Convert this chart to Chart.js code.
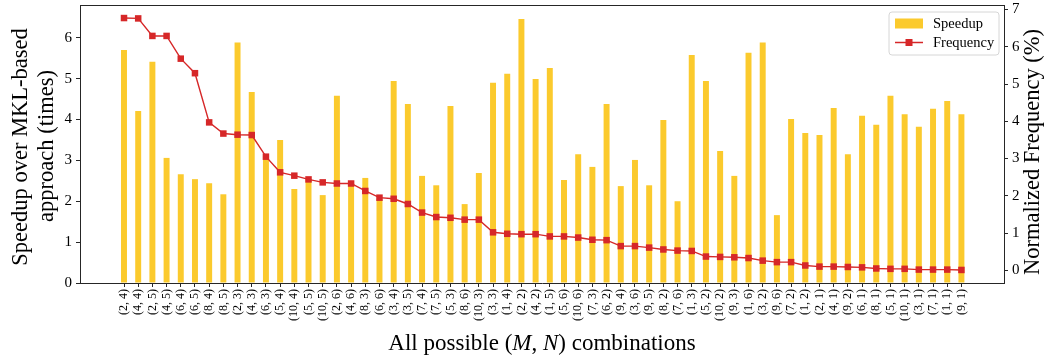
<!DOCTYPE html>
<html>
<head>
<meta charset="utf-8">
<script src="https://cdn.jsdelivr.net/npm/chart.js@4/dist/chart.umd.min.js"></script>
<style>
  html, body { margin: 0; padding: 0; background: #fff; }
  canvas { display: block; }
</style>
</head>
<body>
<canvas id="chart" width="1050" height="360"></canvas>
<script>
// (M, N) combinations, sorted by how often they occur
const combos = [
  '(2, 4)', '(4, 4)', '(2, 5)', '(4, 5)', '(6, 4)', '(6, 5)', '(8, 4)', '(8, 5)', '(2, 3)', '(4, 3)',
  '(6, 3)', '(5, 4)', '(10, 4)', '(5, 5)', '(10, 5)', '(2, 6)', '(4, 6)', '(8, 3)', '(6, 6)', '(3, 4)',
  '(3, 5)', '(7, 4)', '(7, 5)', '(5, 3)', '(8, 6)', '(10, 3)', '(3, 3)', '(1, 4)', '(2, 2)', '(4, 2)',
  '(1, 5)', '(5, 6)', '(10, 6)', '(7, 3)', '(6, 2)', '(9, 4)', '(3, 6)', '(9, 5)', '(8, 2)', '(7, 6)',
  '(1, 3)', '(5, 2)', '(10, 2)', '(9, 3)', '(1, 6)', '(3, 2)', '(9, 6)', '(7, 2)', '(1, 2)', '(2, 1)',
  '(4, 1)', '(9, 2)', '(6, 1)', '(8, 1)', '(5, 1)', '(10, 1)', '(3, 1)', '(7, 1)', '(1, 1)', '(9, 1)'
];

// speedup over the MKL-based approach (times)
const speedup = [
  5.70, 4.21, 5.41, 3.06, 2.66, 2.54, 2.44, 2.17, 5.88, 4.67,
  3.10, 3.50, 2.30, 2.54, 2.15, 4.58, 2.45, 2.57, 2.05, 4.94,
  4.38, 2.62, 2.39, 4.33, 1.93, 2.69, 4.90, 5.12, 6.46, 4.99,
  5.26, 2.52, 3.15, 2.84, 4.38, 2.37, 3.01, 2.39, 3.99, 2.00,
  5.58, 4.94, 3.23, 2.62, 5.63, 5.88, 1.66, 4.01, 3.67, 3.62,
  4.28, 3.15, 4.09, 3.87, 4.58, 4.13, 3.82, 4.26, 4.45, 4.13
];

// normalized frequency (%)
const frequency = [
  6.77, 6.76, 6.29, 6.29, 5.68, 5.29, 3.97, 3.67, 3.64, 3.63,
  3.05, 2.63, 2.54, 2.44, 2.36, 2.33, 2.33, 2.13, 1.95, 1.92,
  1.78, 1.55, 1.43, 1.41, 1.36, 1.36, 1.02, 0.98, 0.97, 0.97,
  0.91, 0.91, 0.88, 0.82, 0.81, 0.65, 0.65, 0.61, 0.56, 0.53,
  0.52, 0.37, 0.36, 0.35, 0.33, 0.26, 0.22, 0.22, 0.13, 0.10,
  0.10, 0.09, 0.08, 0.05, 0.04, 0.04, 0.02, 0.02, 0.02, 0.01
];

const speedupTicks = [0, 1, 2, 3, 4, 5, 6];
const frequencyTicks = [0, 1, 2, 3, 4, 5, 6, 7];

const SERIF = "'Liberation Serif', 'DejaVu Serif', serif";
const AXIS = '#262626';
const YELLOW = '#fbca2d';
const RED = '#d62728';

// keep tick-label overhang from shrinking the plot area
function noOverhang(axis) {
  axis.paddingTop = 0;
  axis.paddingBottom = 0;
  axis.paddingLeft = 0;
  axis.paddingRight = 0;
}

// frame, axis titles and the in-plot legend
const decorations = {
  id: 'decorations',
  afterDraw(chart) {
    const { ctx, chartArea: a } = chart;
    ctx.save();

    // top spine
    ctx.strokeStyle = AXIS;
    ctx.lineWidth = 1;
    ctx.beginPath();
    ctx.moveTo(a.left, Math.round(a.top) + 0.5);
    ctx.lineTo(a.right, Math.round(a.top) + 0.5);
    ctx.stroke();

    ctx.fillStyle = '#000';
    ctx.textBaseline = 'middle';
    ctx.textAlign = 'center';

    // left axis title (two lines)
    ctx.font = `22.5px ${SERIF}`;
    ctx.save();
    ctx.translate(21, 147);
    ctx.rotate(-Math.PI / 2);
    ctx.fillText('Speedup over MKL-based', 0, 0);
    ctx.restore();
    ctx.save();
    ctx.translate(47, 146);
    ctx.rotate(-Math.PI / 2);
    ctx.fillText('approach (times)', 0, 0);
    ctx.restore();

    // right axis title
    ctx.save();
    ctx.translate(1033, 152);
    ctx.rotate(-Math.PI / 2);
    ctx.fillText('Normalized Frequency (%)', 0, 0);
    ctx.restore();

    // x axis title with italic M and N
    const parts = [
      ['All possible (', false], ['M', true], [', ', false], ['N', true], [') combinations', false]
    ];
    const fontOf = (it) => `${it ? 'italic ' : ''}23px ${SERIF}`;
    let total = 0;
    parts.forEach(([t, it]) => { ctx.font = fontOf(it); total += ctx.measureText(t).width; });
    let x = (a.left + a.right) / 2 - total / 2;
    ctx.textAlign = 'left';
    ctx.textBaseline = 'alphabetic';
    parts.forEach(([t, it]) => {
      ctx.font = fontOf(it);
      ctx.fillText(t, x, 350);
      x += ctx.measureText(t).width;
    });

    // legend box
    const lx = 889, ly = 12, lw = 110, lh = 43, r = 3;
    ctx.beginPath();
    ctx.moveTo(lx + r, ly);
    ctx.arcTo(lx + lw, ly, lx + lw, ly + lh, r);
    ctx.arcTo(lx + lw, ly + lh, lx, ly + lh, r);
    ctx.arcTo(lx, ly + lh, lx, ly, r);
    ctx.arcTo(lx, ly, lx + lw, ly, r);
    ctx.closePath();
    ctx.fillStyle = 'rgba(255,255,255,0.8)';
    ctx.fill();
    ctx.strokeStyle = '#d6d6d6';
    ctx.lineWidth = 1;
    ctx.stroke();

    ctx.fillStyle = YELLOW;
    ctx.fillRect(895, 18.5, 28, 10);

    ctx.strokeStyle = RED;
    ctx.lineWidth = 1.5;
    ctx.beginPath();
    ctx.moveTo(895, 42.5);
    ctx.lineTo(923, 42.5);
    ctx.stroke();
    ctx.fillStyle = RED;
    ctx.fillRect(905.5, 39, 7, 7);

    ctx.fillStyle = '#000';
    ctx.font = `14.5px ${SERIF}`;
    ctx.textBaseline = 'middle';
    ctx.fillText('Speedup', 933, 24);
    ctx.fillText('Frequency', 933, 43);

    ctx.restore();
  }
};

new Chart(document.getElementById('chart'), {
  type: 'bar',
  data: {
    datasets: [
      {
        type: 'bar',
        label: 'Speedup',
        data: speedup.map((v, i) => ({ x: i, y: v })),
        backgroundColor: YELLOW,
        borderWidth: 0,
        categoryPercentage: 1,
        barPercentage: 0.42,
        yAxisID: 'y',
        order: 2
      },
      {
        type: 'line',
        label: 'Frequency',
        data: frequency.map((v, i) => ({ x: i, y: v })),
        borderColor: RED,
        backgroundColor: RED,
        borderWidth: 1.4,
        pointStyle: 'rect',
        pointRadius: 4.6,
        pointBorderWidth: 0,
        pointBackgroundColor: RED,
        tension: 0,
        yAxisID: 'y1',
        order: 1
      }
    ]
  },
  options: {
    responsive: false,
    animation: false,
    devicePixelRatio: 1,
    layout: { padding: { top: 5, left: 0, right: 0, bottom: 0 } },
    plugins: {
      legend: { display: false },
      tooltip: { enabled: false }
    },
    scales: {
      x: {
        type: 'linear',
        min: -3.1,
        max: 62.0,
        offset: false,
        grid: { display: true, drawOnChartArea: false, offset: false, tickLength: 4, tickColor: AXIS },
        border: { display: true, color: AXIS, width: 1 },
        afterBuildTicks(axis) { axis.ticks = combos.map((_, i) => ({ value: i })); },
        afterFit(axis) { axis.height = 77; noOverhang(axis); },
        ticks: {
          autoSkip: false,
          minRotation: 90,
          maxRotation: 90,
          padding: 2,
          color: '#000',
          font: { family: SERIF, size: 12 },
          callback: (v) => combos[v] ?? ''
        }
      },
      y: {
        position: 'left',
        min: 0,
        max: 6.8,
        grid: { display: true, drawOnChartArea: false, tickLength: 4, tickColor: AXIS },
        border: { display: true, color: AXIS, width: 1 },
        afterBuildTicks(axis) { axis.ticks = speedupTicks.map((v) => ({ value: v })); },
        afterFit(axis) { axis.width = 80; noOverhang(axis); },
        ticks: { color: '#000', padding: 4, font: { family: SERIF, size: 15 } }
      },
      y1: {
        position: 'right',
        min: -0.34,
        max: 7.12,
        grid: { display: true, drawOnChartArea: false, tickLength: 4, tickColor: AXIS },
        border: { display: true, color: AXIS, width: 1 },
        afterBuildTicks(axis) { axis.ticks = frequencyTicks.map((v) => ({ value: v })); },
        afterFit(axis) { axis.width = 46; noOverhang(axis); },
        ticks: { color: '#000', padding: 4, font: { family: SERIF, size: 15 } }
      }
    }
  },
  plugins: [decorations]
});
</script>
</body>
</html>
